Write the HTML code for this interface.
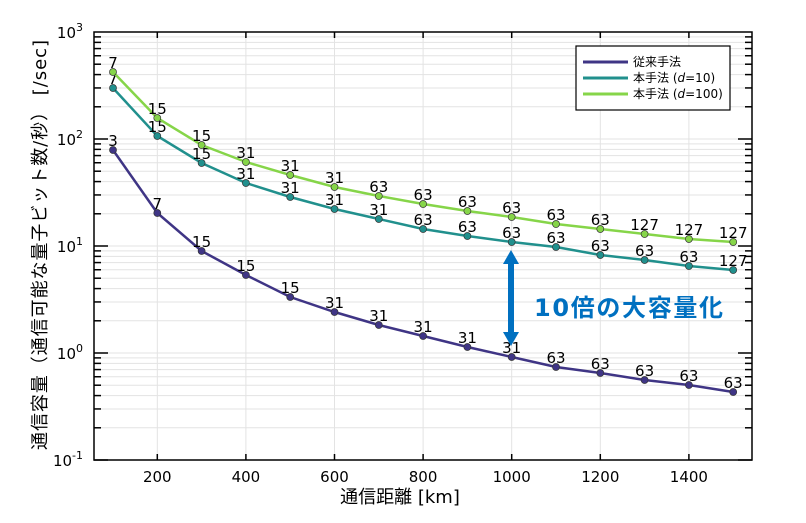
<!DOCTYPE html>
<html><head><meta charset="utf-8"><style>
body{margin:0;background:#fff;}
svg text{font-family:"DejaVu Sans","Liberation Sans","Noto Sans CJK JP",sans-serif;}
</style></head><body>
<svg id="s" width="806" height="518" xmlns="http://www.w3.org/2000/svg"></svg>
<script>
const s=document.getElementById('s');let h='';
const L=94,R=752,T=32,B=460;
const X=v=>113+(v-100)*0.443;
const Y=p=>32+(3-p)*107;
for(let d=-1;d<3;d++)for(let m=1;m<10;m++){const y=Y(d+Math.log10(m));if(m>1||d>-1)h+=`<line x1="${L}" x2="${R}" y1="${y}" y2="${y}" stroke="#e3e3e3" stroke-width="1"/>`;
const len=m==1?14:7;h+=`<line x1="${L}" x2="${L+len}" y1="${y}" y2="${y}" stroke="#000" stroke-width="1.5"/><line x1="${R}" x2="${R-len}" y1="${y}" y2="${y}" stroke="#000" stroke-width="1.5"/>`;}
for(let v=200;v<=1400;v+=200){const x=X(v);h+=`<line x1="${x}" x2="${x}" y1="${T}" y2="${B}" stroke="#e3e3e3"/><line x1="${x}" x2="${x}" y1="${B}" y2="${B-6}" stroke="#000" stroke-width="1.5"/><line x1="${x}" x2="${x}" y1="${T}" y2="${T+6}" stroke="#000" stroke-width="1.5"/><text x="${x}" y="482" font-size="15" text-anchor="middle">${v}</text>`;}
h+=`<rect x="${L}" y="${T}" width="${R-L}" height="${B-T}" fill="none" stroke="#000" stroke-width="1.5"/>`;
[3,2,1,0,-1].forEach(e=>{const y=Y(e)+6;h+=`<text x="83" y="${y}" font-size="15" text-anchor="end">10<tspan dy="-7" font-size="11">${e}</tspan></text>`;});
const xs=[100,200,300,400,500,600,700,800,900,1000,1100,1200,1300,1400,1500];
const S=[
 ['#3f3585',[150,213,251,275,297,312,325,336,347,357,367,373,380,385,392],[3,7,15,15,15,31,31,31,31,31,63,63,63,63,63]],
 ['#21908d',[88,136,163,183,197,209,219,229,236,242,247,255,260,266,270],[7,15,15,31,31,31,31,63,63,63,63,63,63,63,127]],
 ['#86d549',[72,118,145,162,175,187,196,204,211,217,224,229,234,239,242],[7,15,15,31,31,31,63,63,63,63,63,63,127,127,127]]];
S.forEach(([c,ys,lb])=>{let p=xs.map((v,i)=>X(v)+','+ys[i]).join(' ');
h+=`<polyline points="${p}" fill="none" stroke="${c}" stroke-width="2.5"/>`;
xs.forEach((v,i)=>{h+=`<circle cx="${X(v)}" cy="${ys[i]}" r="3.5" fill="${c}" stroke="#333" stroke-width="0.7"/><text x="${X(v)}" y="${ys[i]-4}" font-size="15" text-anchor="middle">${lb[i]}</text>`;});});
h+=`<rect x="576" y="46" width="154" height="64" fill="#fff" stroke="#000" stroke-width="1.2"/>`;
[['#3f3585','従来手法'],['#21908d','本手法 (<tspan font-style="italic">d</tspan>=10)'],['#86d549','本手法 (<tspan font-style="italic">d</tspan>=100)']].forEach(([c,t],i)=>{const y=62+i*16;h+=`<line x1="583" x2="628" y1="${y}" y2="${y}" stroke="${c}" stroke-width="3"/><text x="633" y="${y+4}" font-size="12">${t}</text>`;});
h+=`<rect x="508" y="262" width="6" height="72" fill="#0070c0"/><polygon points="511,250 503,264 519,264" fill="#0070c0"/><polygon points="511,346 503,332 519,332" fill="#0070c0"/>`;
h+=`<text x="534" y="316" font-size="24" font-weight="bold" fill="#0070c0" textLength="189">10倍の大容量化</text>`;
h+=`<text x="400" y="503" font-size="18" text-anchor="middle">通信距離 [km]</text>`;
h+=`<text transform="translate(46,245) rotate(-90)" font-size="18" text-anchor="middle" textLength="410">通信容量（通信可能な量子ビット数/秒） [/sec]</text>`;
s.innerHTML=h;
</script>
</body></html>
